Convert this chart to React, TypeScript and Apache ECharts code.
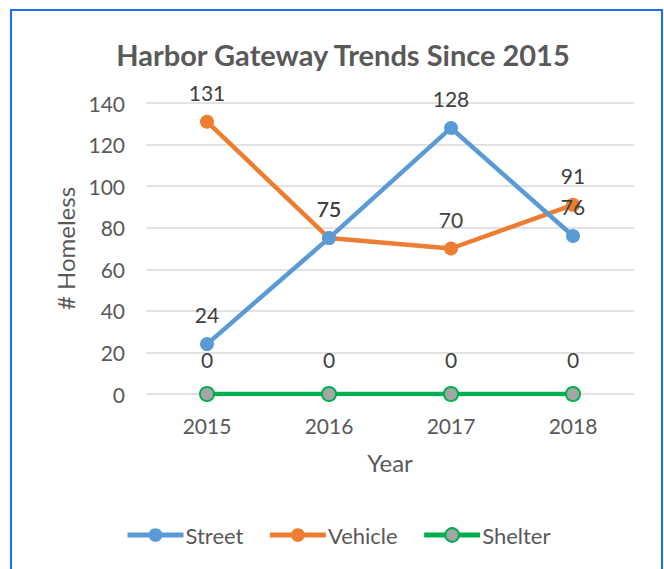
import React, { useEffect, useRef } from "react";
import * as echarts from "echarts";

const years = ["2015", "2016", "2017", "2018"];
const street = [24, 75, 128, 76];
const vehicle = [131, 75, 70, 91];
const shelter = [0, 0, 0, 0];
const yTicks = { min: 0, max: 140, interval: 20 };

export default function App() {
  const ref = useRef<HTMLDivElement>(null);
  useEffect(() => {
    document.body.style.margin = "0";
    const chart = echarts.init(ref.current!, null, { renderer: "svg" });
    const font = "Lato, 'Liberation Sans', sans-serif";
    const label = {
      show: true,
      position: "top" as const,
      distance: 12,
      fontSize: 21,
      color: "#404040",
      fontFamily: font,
    };
    chart.setOption({
      animation: false,
      backgroundColor: "#ffffff",
      textStyle: { fontFamily: font },
      title: {
        text: "Harbor Gateway Trends Since 2015",
        left: 338,
        textAlign: "center",
        top: 35,
        textStyle: { fontSize: 29, fontWeight: "bold", color: "#595959", fontFamily: font },
      },
      graphic: [
        {
          type: "rect",
          shape: { x: 11, y: 10, width: 651, height: 580 },
          style: { fill: "none", stroke: "#1a6ff0", lineWidth: 2 },
          silent: true,
        },
      ],
      grid: { left: 146, right: 30, top: 103, bottom: 175, containLabel: false },
      legend: {
        bottom: 18,
        left: 120,
        itemWidth: 56,
        itemHeight: 17,
        itemGap: 24,
        lineStyle: { width: 5 },
        textStyle: { fontSize: 22, color: "#595959", fontFamily: font, padding: [0, 0, 0, -3] },
        data: ["Street", "Vehicle", "Shelter"],
      },
      xAxis: {
        type: "category",
        data: years,
        name: "Year",
        nameLocation: "middle",
        nameGap: 56,
        nameTextStyle: { fontSize: 24, color: "#595959", fontFamily: font },
        axisLine: { show: false },
        axisTick: { show: false },
        axisLabel: { fontSize: 21, color: "#595959", margin: 21, fontFamily: font },
      },
      yAxis: {
        type: "value",
        min: yTicks.min,
        max: yTicks.max,
        interval: yTicks.interval,
        name: "# Homeless",
        nameLocation: "middle",
        nameGap: 68,
        nameTextStyle: { fontSize: 24, color: "#595959", fontFamily: font },
        axisLine: { show: false },
        axisTick: { show: false },
        axisLabel: { fontSize: 21, color: "#595959", margin: 21, fontFamily: font },
        splitLine: { lineStyle: { color: "#d9d9d9", width: 1.5 } },
      },
      series: [
        {
          name: "Street",
          type: "line",
          data: street,
          symbol: "circle",
          symbolSize: 14,
          lineStyle: { color: "#5B9BD5", width: 4.5 },
          itemStyle: { color: "#5B9BD5" },
          label,
          z: 3,
        },
        {
          name: "Vehicle",
          type: "line",
          data: vehicle,
          symbol: "circle",
          symbolSize: 14,
          lineStyle: { color: "#ED7D31", width: 4.5 },
          itemStyle: { color: "#ED7D31" },
          label,
          z: 2,
        },
        {
          name: "Shelter",
          type: "line",
          data: shelter,
          symbol: "circle",
          symbolSize: 14,
          lineStyle: { color: "#00B050", width: 4.5 },
          itemStyle: { color: "#A5A5A5", borderColor: "#00B050", borderWidth: 2 },
          label: { ...label, distance: 16 },
          z: 4,
        },
      ],
    });
    return () => chart.dispose();
  }, []);
  return (
    <div
      ref={ref}
      style={{ position: "absolute", left: 0, top: 0, width: 664, height: 569 }}
    />
  );
}
